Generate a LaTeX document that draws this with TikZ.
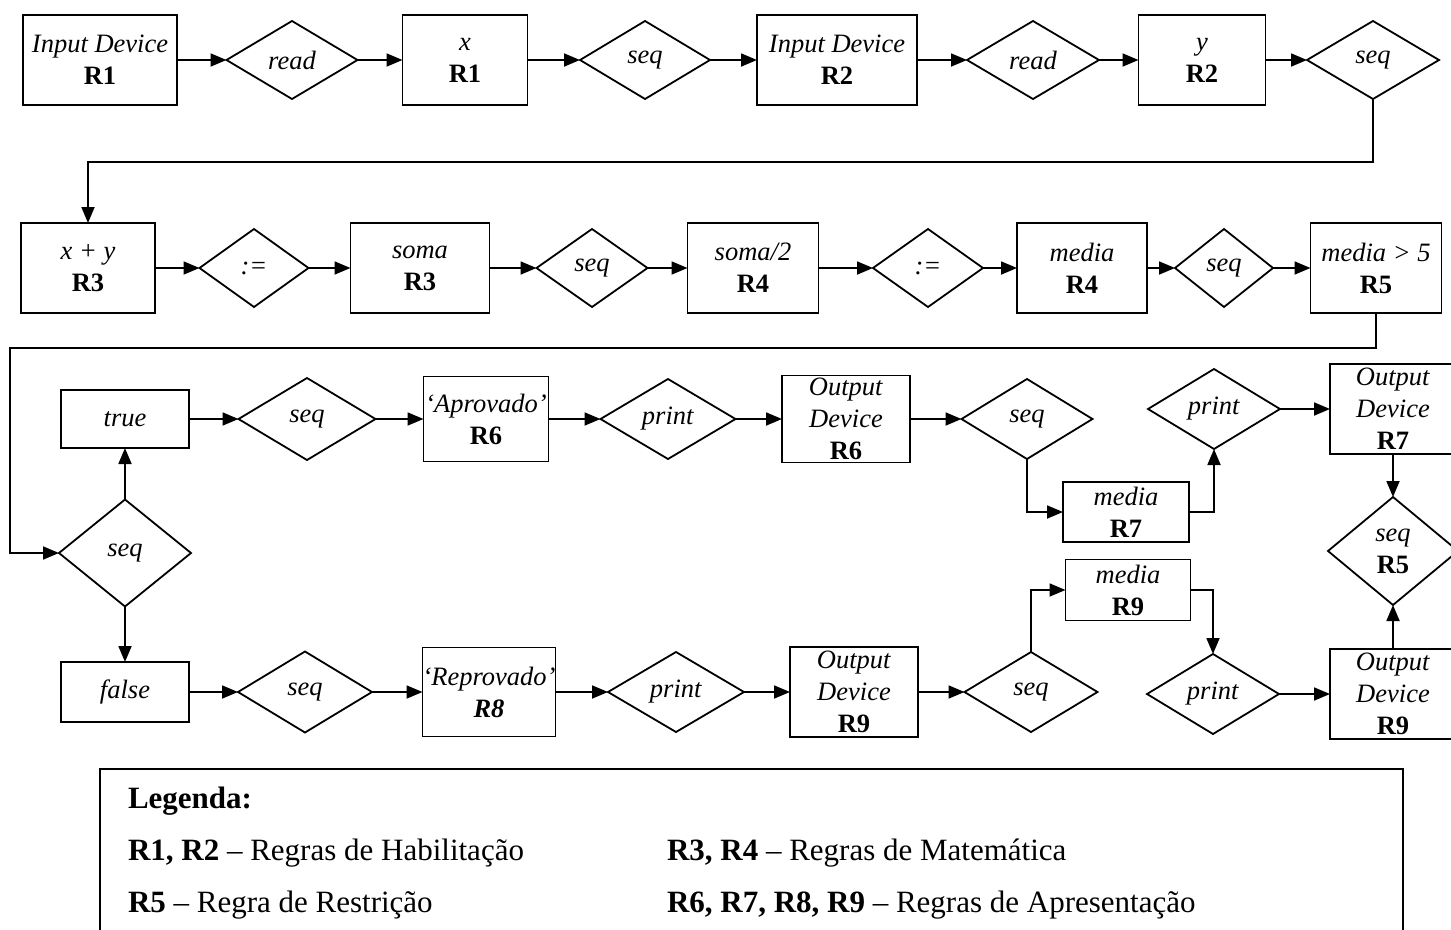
\documentclass[tikz,border=0pt]{standalone}
\usepackage{fontspec}
\setmainfont{Liberation Serif}
\usetikzlibrary{shapes.geometric,arrows.meta}

\begin{document}
\begin{tikzpicture}[x=1pt, y=-1pt, line width=1.8pt, line join=miter,
        font=\fontsize{26.5}{32}\selectfont,
        every node/.style={align=center, inner sep=0pt, outer sep=0pt},
        box/.style={draw, rectangle, minimum width=#1, minimum height=90pt},
        box/.default=130pt,
        dec/.style={draw, diamond, minimum width=#1, minimum height=78pt},
        dec/.default=131pt,
        leg/.style={anchor=base west, align=left, font=\fontsize{31}{36}\selectfont},
        arr/.style={-{Triangle[length=16pt, width=13pt]}}]
    \useasboundingbox[fill=white] (0,0) rectangle (1451,929);
    \clip (0,0) rectangle (1451,929);

    % first line: reading x and y
    \node[box=154pt] (b1) at (100,60) {\textit{Input Device}\\\textbf{R1}};
    \node[dec] (d1) at (292,60) {\textit{read}};
    \node[box=125pt] (b2) at (465,60) {\textit{x}\\\textbf{R1}};
    \node[dec=130pt] (d2) at (645,60) {\textit{seq}};
    \node[box=160pt] (b3) at (837,60) {\textit{Input Device}\\\textbf{R2}};
    \node[dec=132pt] (d3) at (1033,60) {\textit{read}};
    \node[box=127pt] (b4) at (1202,60) {\textit{y}\\\textbf{R2}};
    \node[dec=132pt] (d4) at (1373,60) {\textit{seq}};

    % second line: soma and media
    \node[box=134pt] (b5) at (88,268) {\textit{x + y}\\\textbf{R3}};
    \node[dec=109pt] (d5) at (254,268) {\textit{:=}};
    \node[box=139pt] (b6) at (420,268) {\textit{soma}\\\textbf{R3}};
    \node[dec=111pt] (d6) at (592,268) {\textit{seq}};
    \node[box=131pt] (b7) at (753,268) {\textit{soma/2}\\\textbf{R4}};
    \node[dec=110pt] (d7) at (928,268) {\textit{:=}};
    \node[box=130pt] (b8) at (1082,268) {\textit{media}\\\textbf{R4}};
    \node[dec=98pt] (d8) at (1224,268) {\textit{seq}};
    \node[box=131pt] (b9) at (1376,268) {\textit{media > 5}\\\textbf{R5}};

    % branch on the test
    \node[dec=132pt, minimum height=107pt] (dc) at (125,553) {\textit{seq}};
    \coordinate (lp) at (10,348);

    % true branch
    \node[box=128pt, minimum height=58pt] (tr) at (125,419) {\textit{true}};
    \node[dec=137pt, minimum height=82pt] (d10) at (307,419) {\textit{seq}};
    \node[box=125pt, minimum height=85pt] (b11) at (486,419) {\textit{`Aprovado'}\\\textbf{R6}};
    \node[dec=135pt, minimum height=80pt] (d11) at (668,419) {\textit{print}};
    \node[box=128pt, minimum height=87pt] (b12) at (846,419) {\textit{Output}\\\textit{Device}\\\textbf{R6}};
    \node[dec=131pt, minimum height=80pt] (d12) at (1027,419) {\textit{seq}};
    \node[box=126pt, minimum height=60pt] (m7) at (1126,512) {\textit{media}\\\textbf{R7}};
    \node[dec=132pt, minimum height=80pt] (d13) at (1214,409) {\textit{print}};
    \node[box=126pt] (b13) at (1393,409) {\textit{Output}\\\textit{Device}\\\textbf{R7}};
    \node[dec=130pt, minimum height=108pt] (d14) at (1393,551) {\textit{seq}\\\textbf{R5}};

    % false branch
    \node[box=128pt, minimum height=60pt] (fl) at (125,692) {\textit{false}};
    \node[dec=134pt, minimum height=81pt] (d15) at (305,692) {\textit{seq}};
    \node[box=127pt, minimum height=89pt] (b14) at (489,692) {\textit{`Reprovado'}\\\textbf{\textit{R8}}};
    \node[dec=136pt, minimum height=80pt] (d16) at (676,692) {\textit{print}};
    \node[box=128pt] (b15) at (854,692) {\textit{Output}\\\textit{Device}\\\textbf{R9}};
    \node[dec=133pt, minimum height=80pt] (d17) at (1031,692) {\textit{seq}};
    \node[box=125pt, minimum height=61pt] (m9) at (1128,590) {\textit{media}\\\textbf{R9}};
    \node[dec=132pt, minimum height=80pt] (d18) at (1213,694) {\textit{print}};
    \node[box=126pt] (b16) at (1393,694) {\textit{Output}\\\textit{Device}\\\textbf{R9}};

    \draw[arr] (b1.east) -- (d1.west);
    \draw[arr] (d1.east) -- (b2.west);
    \draw[arr] (b2.east) -- (d2.west);
    \draw[arr] (d2.east) -- (b3.west);
    \draw[arr] (b3.east) -- (d3.west);
    \draw[arr] (d3.east) -- (b4.west);
    \draw[arr] (b4.east) -- (d4.west);
    \draw[arr] (d4.south) |- ([yshift=61pt]b5.north) -- (b5.north);

    \draw[arr] (b5.east) -- (d5.west);
    \draw[arr] (d5.east) -- (b6.west);
    \draw[arr] (b6.east) -- (d6.west);
    \draw[arr] (d6.east) -- (b7.west);
    \draw[arr] (b7.east) -- (d7.west);
    \draw[arr] (d7.east) -- (b8.west);
    \draw[arr] (b8.east) -- (d8.west);
    \draw[arr] (d8.east) -- (b9.west);
    \draw[arr] (b9.south) |- (lp) |- (dc.west);

    \draw[arr] (dc.north) -- (tr.south);
    \draw[arr] (dc.south) -- (fl.north);

    \draw[arr] (tr.east) -- (d10.west);
    \draw[arr] (d10.east) -- (b11.west);
    \draw[arr] (b11.east) -- (d11.west);
    \draw[arr] (d11.east) -- (b12.west);
    \draw[arr] (b12.east) -- (d12.west);
    \draw[arr] (d12.south) |- (m7.west);
    \draw[arr] (m7.east) -| (d13.south);
    \draw[arr] (d13.east) -- (b13.west);
    \draw[arr] (b13.south) -- (d14.north);

    \draw[arr] (fl.east) -- (d15.west);
    \draw[arr] (d15.east) -- (b14.west);
    \draw[arr] (b14.east) -- (d16.west);
    \draw[arr] (d16.east) -- (b15.west);
    \draw[arr] (b15.east) -- (d17.west);
    \draw[arr] (d17.north) |- (m9.west);
    \draw[arr] (m9.east) -| (d18.north);
    \draw[arr] (d18.east) -- (b16.west);
    \draw[arr] (b16.north) -- (d14.south);

    % legend
    \draw (100,769) rectangle (1403,960);
    \node[leg] (l0) at (128,808) {\textbf{Legenda:}};
    \node[leg] (l1) at (128,860) {\textbf{R1, R2} -- Regras de Habilitação};
    \node[leg] (l2) at (128,912) {\textbf{R5} -- Regra de Restrição};
    \node[leg] (l3) at (667,860) {\textbf{R3, R4} -- Regras de Matemática};
    \node[leg] (l4) at (667,912) {\textbf{R6, R7, R8, R9} -- Regras de Apresentação};
\end{tikzpicture}
\end{document}
